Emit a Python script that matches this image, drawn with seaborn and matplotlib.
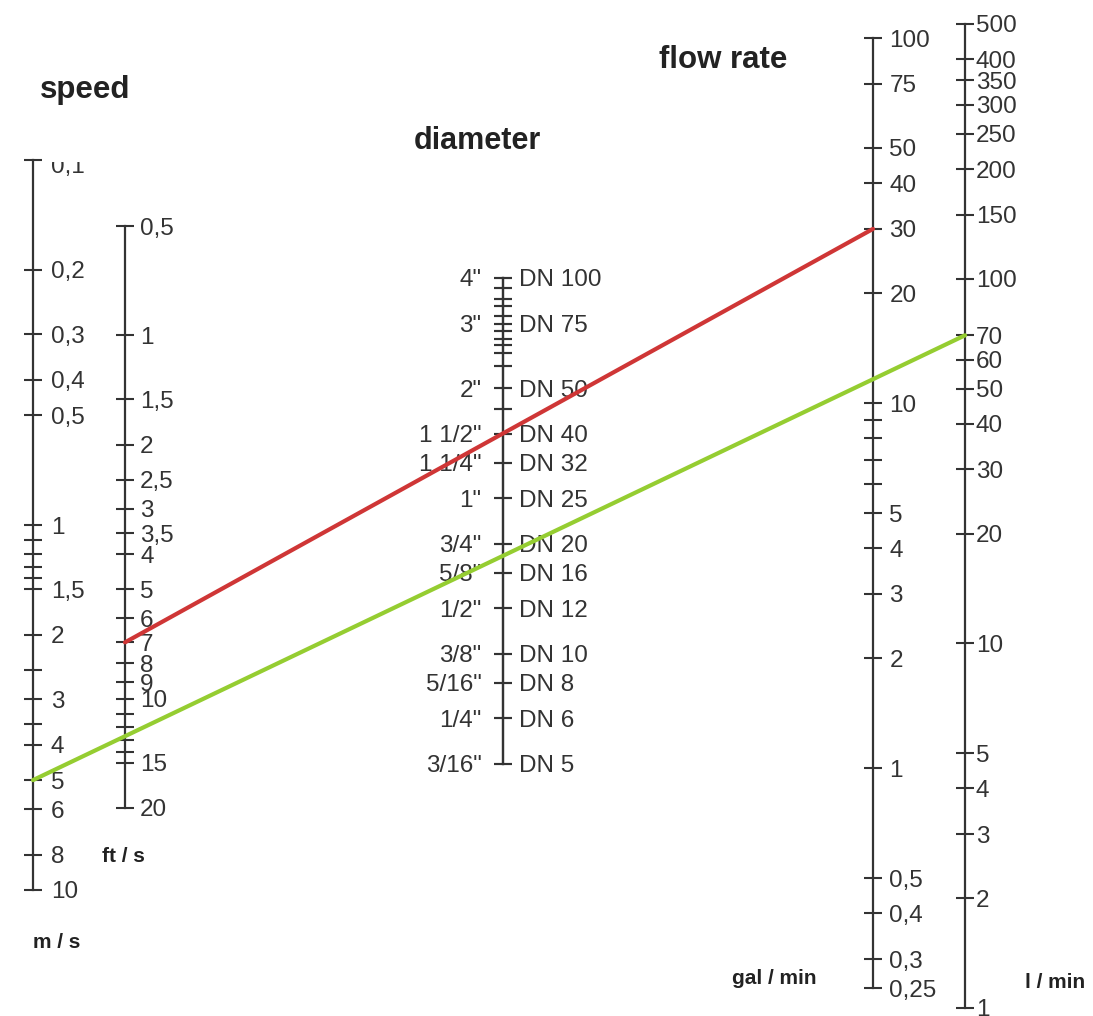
import matplotlib
matplotlib.use("Agg")
import matplotlib.pyplot as plt
from matplotlib.ticker import FixedLocator, FixedFormatter, NullFormatter
from matplotlib.transforms import Bbox, TransformedBbox
import pandas as pd
import seaborn as sns

# ==============================
# Scale values
# ==============================
ms_major = [0.1, 0.2, 0.3, 0.4, 0.5, 1, 1.5, 2, 3, 4, 5, 6, 8, 10]
ms_labels = ["0,1", "0,2", "0,3", "0,4", "0,5", "1", "1,5", "2", "3", "4", "5", "6", "8", "10"]
ms_minor = [1.1, 1.2, 1.3, 1.4, 2.5, 3.5]

fts_major = [0.5, 1, 1.5, 2, 2.5, 3, 3.5, 4, 5, 6, 7, 8, 9, 10, 15, 20]
fts_labels = ["0,5", "1", "1,5", "2", "2,5", "3", "3,5", "4", "5", "6", "7", "8", "9", "10", "15", "20"]
fts_minor = [11, 12, 13, 14]

diam_inch = [4, 3, 2, 1.5, 1.25, 1, 0.75, 0.625, 0.5, 0.375, 0.3125, 0.25, 0.1875]
diam_inch_labels = ['4"', '3"', '2"', '1 1/2"', '1 1/4"', '1"', '3/4"', '5/8"', '1/2"',
                    '3/8"', '5/16"', '1/4"', '3/16"']
diam_dn_labels = ["DN 100", "DN 75", "DN 50", "DN 40", "DN 32", "DN 25", "DN 20", "DN 16",
                  "DN 12", "DN 10", "DN 8", "DN 6", "DN 5"]
diam_minor = [3.75, 3.5, 3.35, 3.15, 2.87, 2.73, 2.62, 2.5, 2.3, 1.75]

gal_major = [100, 75, 50, 40, 30, 20, 10, 5, 4, 3, 2, 1, 0.5, 0.4, 0.3, 0.25]
gal_labels = ["100", "75", "50", "40", "30", "20", "10", "5", "4", "3", "2", "1",
              "0,5", "0,4", "0,3", "0,25"]
gal_minor = [9, 8, 7, 6]

lmin_major = [500, 400, 350, 300, 250, 200, 150, 100, 70, 60, 50, 40, 30, 20, 10, 5, 4, 3, 2, 1]
lmin_labels = ["500", "400", "350", "300", "250", "200", "150", "100", "70", "60", "50",
               "40", "30", "20", "10", "5", "4", "3", "2", "1"]

# reading lines: start scale/value -> end scale/value
line_start_scale = ["ft/s", "m/s"]
line_start_value = [7, 5]
line_end_scale = ["gal/min", "l/min"]
line_end_value = [30, 70]
line_colors = ["#cf3636", "#95cd31"]

# ==============================
# Figure
# ==============================
sns.set_theme(style="white")
plt.rcParams['font.family'] = ['Liberation Sans', 'DejaVu Sans']

W, H = 1093, 1016
fig = plt.figure(figsize=(W / 100, H / 100), dpi=100)
fig.patch.set_facecolor("white")

INK = "#333333"
TICK_LEN = 13
TICK_FS = 17.5


def scale_axis(x_px, y_top, y_bot, v_top, v_bot, major, labels, minor=None,
               side="right", pad=5):
    ax = fig.add_axes([x_px / W, 1 - y_bot / H, 0.0004, (y_bot - y_top) / H])
    ax.set_yscale("log")
    ax.set_ylim(v_bot, v_top)
    ax.set_xticks([])
    ax.patch.set_alpha(0)
    for s in ax.spines.values():
        s.set_visible(False)
    ax.spines[side].set_visible(True)
    ax.spines[side].set_color(INK)
    ax.spines[side].set_linewidth(1.6)
    ax.yaxis.set_ticks_position(side)
    ax.yaxis.set_major_locator(FixedLocator(major))
    ax.yaxis.set_major_formatter(FixedFormatter(labels))
    ax.yaxis.set_minor_locator(FixedLocator(minor if minor else []))
    ax.yaxis.set_minor_formatter(NullFormatter())
    ax.tick_params(axis="y", which="both", direction="inout", length=TICK_LEN,
                   width=1.5, color=INK, labelcolor=INK, labelsize=TICK_FS, pad=pad)
    ax.grid(False)
    return ax


# the top label of the m/s scale is drawn separately (it is cut off in the original)
ax_ms = scale_axis(33, 160, 890, 0.1, 10, ms_major, [""] + ms_labels[1:], ms_minor, pad=6)
ax_fts = scale_axis(125, 226, 808, 0.5, 20, fts_major, fts_labels, fts_minor, pad=4)
ax_gal = scale_axis(873, 38, 988, 100, 0.25, gal_major, gal_labels, gal_minor, pad=5)
ax_lmin = scale_axis(965, 24, 1008, 500, 1, lmin_major, lmin_labels, pad=1)

ax_din = scale_axis(503, 278, 764, 4, 0.1875, diam_inch, diam_inch_labels, diam_minor,
                    side="left", pad=9)
ax_ddn = scale_axis(503, 278, 764, 4, 0.1875, diam_inch, diam_dn_labels, diam_minor,
                    side="right", pad=5)

top_lbl = ax_ms.annotate(ms_labels[0], xy=(1, ms_major[0]), xycoords=("axes fraction", "data"),
                         xytext=(18, -7), textcoords="offset pixels", ha="left", va="center",
                         fontsize=TICK_FS, color=INK, annotation_clip=False)
top_lbl.set_clip_on(True)
top_lbl.set_clip_box(TransformedBbox(Bbox([[0, 0], [1, 1 - 162 / H]]), fig.transFigure))

scales = {"m/s": ax_ms, "ft/s": ax_fts, "gal/min": ax_gal, "l/min": ax_lmin}

# ==============================
# Reading lines on a transparent overlay
# ==============================
base = fig.add_axes([0, 0, 1, 1], zorder=10)
base.axis("off")
base.patch.set_alpha(0)


def to_base(ax, v):
    disp = ax.transData.transform((0, v))
    return base.transAxes.inverted().transform(disp)


rows = []
for i in range(len(line_colors)):
    p0 = to_base(scales[line_start_scale[i]], line_start_value[i])
    p1 = to_base(scales[line_end_scale[i]], line_end_value[i])
    rows.append({"line": i, "x": p0[0], "y": p0[1]})
    rows.append({"line": i, "x": p1[0], "y": p1[1]})
lines_df = pd.DataFrame(rows)

sns.lineplot(data=lines_df, x="x", y="y", hue="line", palette=line_colors,
             sort=False, linewidth=3, legend=False, ax=base)
base.set_xlim(0, 1)
base.set_ylim(0, 1)
base.axis("off")

# ==============================
# Titles and units
# ==============================
def ftext(x, y, s, **kw):
    fig.text(x / W, 1 - y / H, s, va="center", ha="left", color="#222222", **kw)


ftext(40, 90, "speed", fontsize=22.5, fontweight="bold")
ftext(414, 141, "diameter", fontsize=22, fontweight="bold")
ftext(659, 60, "flow rate", fontsize=22.5, fontweight="bold")

ftext(33, 942, "m / s", fontsize=15, fontweight="bold")
ftext(102, 857, "ft / s", fontsize=15, fontweight="bold")
ftext(732, 978, "gal / min", fontsize=15, fontweight="bold")
ftext(1025, 983, "l / min", fontsize=15, fontweight="bold")

plt.savefig("out.png", dpi=100, facecolor="white")
